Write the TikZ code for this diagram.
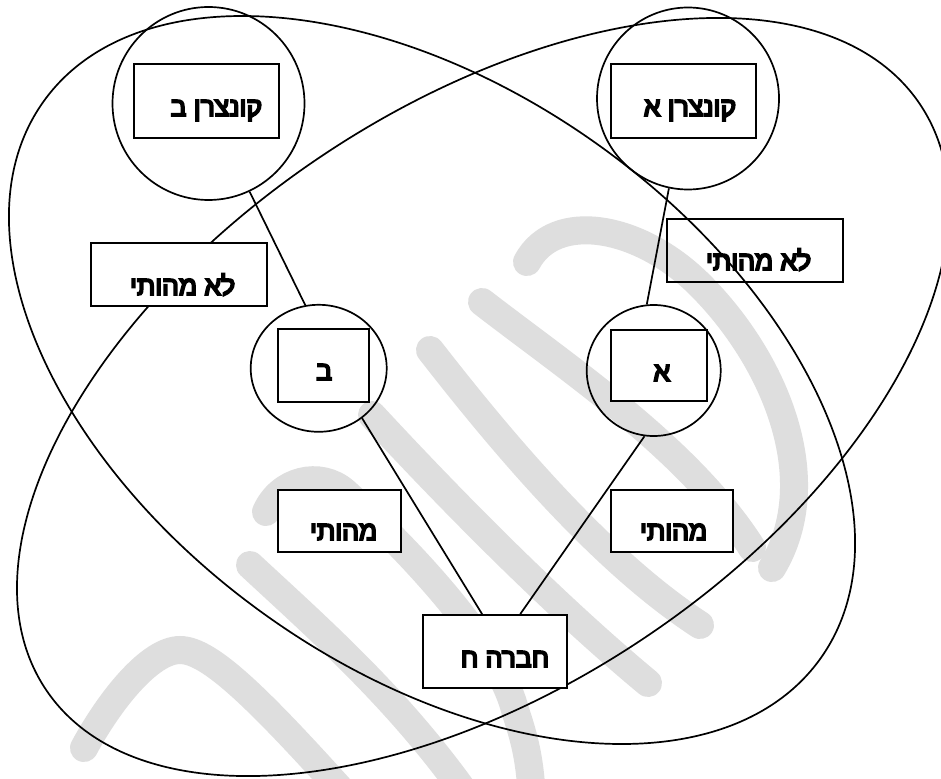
\documentclass[tikz,border=0pt]{standalone}
\usepackage{fontspec}
\newfontfamily\heb[Script=Hebrew, FakeBold=7]{Liberation Sans}
\TeXXeTstate=1
\usetikzlibrary{shapes.geometric}
\definecolor{wmgray}{HTML}{DEDEDE}
\begin{document}
\begin{tikzpicture}[x=1pt,y=-1pt,
  line width=1.7pt,
  box/.style={draw, rectangle, inner sep=0pt, fill=white},
  openbox/.style={draw, rectangle, inner sep=0pt},
  ring/.style={draw, ellipse, inner sep=0pt},
  lbl/.style={inner sep=0pt, anchor=base east, font=\heb\fontsize{26.5}{30}\selectfont},
  wm/.style={line width=28pt, line cap=round, draw=wmgray},
]
\useasboundingbox (0,0) rectangle (941,778);
\clip (0,0) rectangle (941,778);
\fill[white] (0,0) rectangle (941,778);

% watermark
\draw[wm] (527,262) .. controls (555,210) and (640,225) .. (700,285) .. controls (775,360) and (825,480) .. (772,568);
\draw[wm] (482,302) .. controls (570,370) and (690,450) .. (752,548);
\draw[wm] (430,350) .. controls (500,440) and (600,560) .. (700,625);
\draw[wm] (372,415) .. controls (460,510) and (560,610) .. (648,683);
\draw[wm] (266,512) .. controls (280,480) and (320,470) .. (345,492) .. controls (420,560) and (500,650) .. (515,710) .. controls (525,740) and (530,760) .. (532,800);
\draw[wm] (250,565) .. controls (320,630) and (400,700) .. (470,800);
\draw[wm] (84,748) .. controls (110,700) and (150,650) .. (180,650) .. controls (210,650) and (260,700) .. (350,800);

% big ellipses
\draw[rotate around={-35.7:(432,380)}] (432,380) ellipse [x radius=478, y radius=288];
\draw[rotate around={33.8:(483,397)}] (483,397) ellipse [x radius=526, y radius=290];

% rings
\node[ring, minimum width=192, minimum height=193] (ckb) at (208.5,103.5) {};
\node[ring, minimum width=182, minimum height=182] (cka) at (688,98.5) {};
\node[ring, minimum width=136, minimum height=127] (cb) at (318.7,368.3) {};
\node[ring, minimum width=134, minimum height=131] (ca) at (653.7,370.5) {};

% boxes
\node[box, minimum width=145, minimum height=74] (kbb) at (206.5,101) {};
\node[box, minimum width=145, minimum height=74] (kab) at (683.5,101) {};
\node[openbox, minimum width=176, minimum height=63] (lmr) at (755,250.5) {};
\node[box, minimum width=176, minimum height=63] (lml) at (179,274.5) {};
\node[box, minimum width=91, minimum height=73] (bb) at (323.5,365.5) {};
\node[box, minimum width=96, minimum height=71] (ab) at (659,365.5) {};
\node[box, minimum width=123, minimum height=62] (mb) at (339.5,521) {};
\node[box, minimum width=122, minimum height=62] (ma) at (672,521) {};
\node[box, minimum width=144, minimum height=73] (hb) at (495,651.5) {};

% connectors
\draw (ckb.-65.8) -- (cb.102.4);
\draw (cka.-102.9) -- (ca.96.7);
\draw (cb.-49.2) -- (hb.109.6);
\draw (ca.-98.4) -- (hb.56.7);

% labels
\node[lbl] (kbt) at (263,116) {\beginR קונצרן ב\endR};
\node[lbl] (kat) at (737,116) {\beginR קונצרן א\endR};
\node[lbl] (lmrt) at (812,270) {\beginR לא מהותי\endR};
\node[lbl] (lmlt) at (236,295) {\beginR לא מהותי\endR};
\node[lbl] (bt) at (333,380) {\beginR ב\endR};
\node[lbl] (at) at (671,381) {\beginR א\endR};
\node[lbl] (mbt) at (378,540) {\beginR מהותי\endR};
\node[lbl] (mat) at (708,540) {\beginR מהותי\endR};
\node[lbl] (ht) at (550,667) {\beginR חברה ח\endR};
\end{tikzpicture}
\end{document}
